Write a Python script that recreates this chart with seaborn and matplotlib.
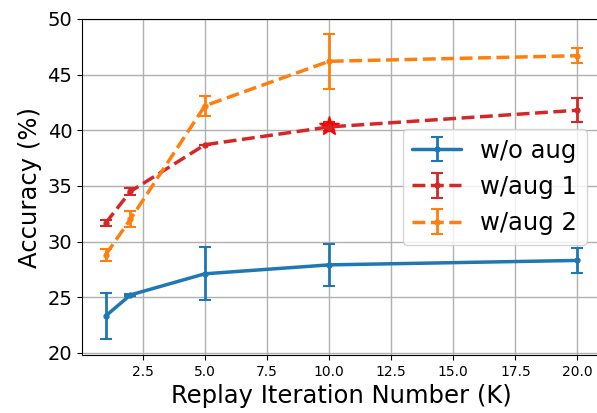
import matplotlib
matplotlib.use('Agg')
import matplotlib.pyplot as plt
import seaborn as sns

# Data
iters = [1, 2, 5, 10, 20]
acc_noaug = [23.3, 25.2, 27.1, 27.9, 28.3]
err_noaug = [2.05, 0.1, 2.4, 1.9, 1.15]
acc_aug1 = [31.65, 34.5, 38.7, 40.3, 41.8]
err_aug1 = [0.3, 0.3, 0.0, 0.4, 1.1]
acc_aug2 = [28.8, 32.0, 42.2, 46.2, 46.7]
err_aug2 = [0.55, 0.7, 0.9, 2.45, 0.65]
best_x = [10]
best_y = [40.4]

sns.set_style('ticks', {'text.color': 'black', 'axes.labelcolor': 'black',
                        'xtick.color': 'black', 'ytick.color': 'black',
                        'axes.edgecolor': 'black'})
colors = sns.color_palette('tab10')

fig = plt.figure(figsize=(5.97, 4.13), dpi=100)
ax = fig.add_axes([82 / 597, 1 - 355 / 413, (601 - 82) / 597, (355 - 19) / 413])

ax.errorbar(iters, acc_noaug, yerr=err_noaug, color=colors[0], linestyle='-',
            linewidth=2.5, marker='o', markersize=3.5, capsize=4, capthick=1.5,
            elinewidth=2, label='w/o aug')
ax.errorbar(iters, acc_aug1, yerr=err_aug1, color=colors[3], linestyle='--',
            linewidth=2.5, marker='o', markersize=3.5, capsize=4, capthick=1.5,
            elinewidth=2, label='w/aug 1')
ax.errorbar(iters, acc_aug2, yerr=err_aug2, color=colors[1], linestyle='--',
            linewidth=2.5, marker='o', markersize=3.5, capsize=4, capthick=1.5,
            elinewidth=2, label='w/aug 2')
ax.plot(best_x, best_y, marker='*', color='red', markersize=15, linestyle='none')

ax.set_xlim(0.05, 20.95)
ax.set_ylim(19.8, 50)
ax.set_yticks([20, 25, 30, 35, 40, 45, 50])
ax.set_xticks([2.5, 5.0, 7.5, 10.0, 12.5, 15.0, 17.5, 20.0])
ax.grid(True, color='#b0b0b0', linewidth=1)
ax.tick_params(axis='y', labelsize=14)
ax.tick_params(axis='x', labelsize=10)
ax.set_xlabel('Replay Iteration Number (K)', fontsize=17.5)
ax.set_ylabel('Accuracy (%)', fontsize=17.5)

ax.legend(fontsize=17.5, loc='upper right', bbox_to_anchor=(587 / 597, 1 - 129 / 413),
          bbox_transform=fig.transFigure, borderaxespad=0)

fig.savefig('out.png', dpi=100)
